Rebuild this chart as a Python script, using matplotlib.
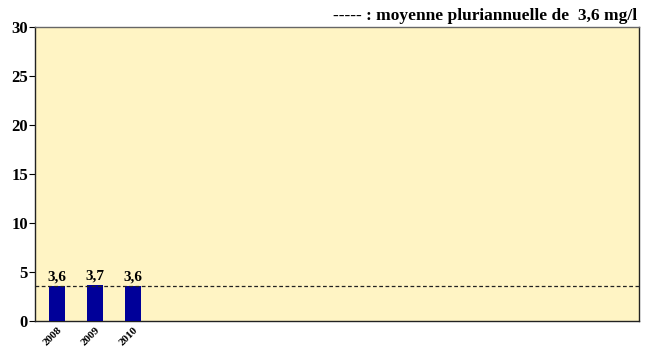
import matplotlib.pyplot as plt

years = ['2008', '2009', '2010']
values = [3.6, 3.7, 3.6]
mean_value = 3.6
value_labels = ['3,6', '3,7', '3,6']
y_ticks = [0, 5, 10, 15, 20, 25, 30]

plt.rcParams['font.family'] = ['Liberation Serif', 'DejaVu Serif']
plt.rcParams['font.weight'] = 'bold'

fig = plt.figure(figsize=(6.52, 3.52), dpi=100)
ax = fig.add_axes([0.0537, 0.088, 0.927, 0.835])
ax.set_facecolor('#fff4c4')

x = list(range(len(years)))
ax.bar(x, values, width=0.42, color='#000099', zorder=3)
for xi, v, lab in zip(x, values, value_labels):
    ax.text(xi, v + 0.2, lab, ha='center', va='bottom', fontsize=11, fontweight='bold')

ax.axhline(mean_value, color='#222222', linestyle=(0, (3, 2)), linewidth=0.9, zorder=4)

ax.set_xlim(-0.58, 15.32)
ax.set_ylim(0, 30)
ax.set_yticks(y_ticks)
ax.set_yticklabels([str(t) for t in y_ticks], fontsize=12, fontweight='bold')
ax.set_xticks(x)
ax.set_xticklabels(years, rotation=45, ha='right', rotation_mode='anchor', fontsize=8, fontweight='bold')
ax.tick_params(axis='x', length=0, pad=3)
ax.tick_params(axis='y', length=4, width=0.8, pad=1)

for side in ['left', 'bottom', 'right', 'top']:
    ax.spines[side].set_color('#222222')
    ax.spines[side].set_linewidth(1.0)
ax.spines['top'].set_color('#666666')

fig.text(0.977, 0.955, '----- : moyenne pluriannuelle de  3,6 mg/l', ha='right', va='center',
         fontsize=12.5, fontweight='bold')

fig.savefig('out.png', dpi=100)
